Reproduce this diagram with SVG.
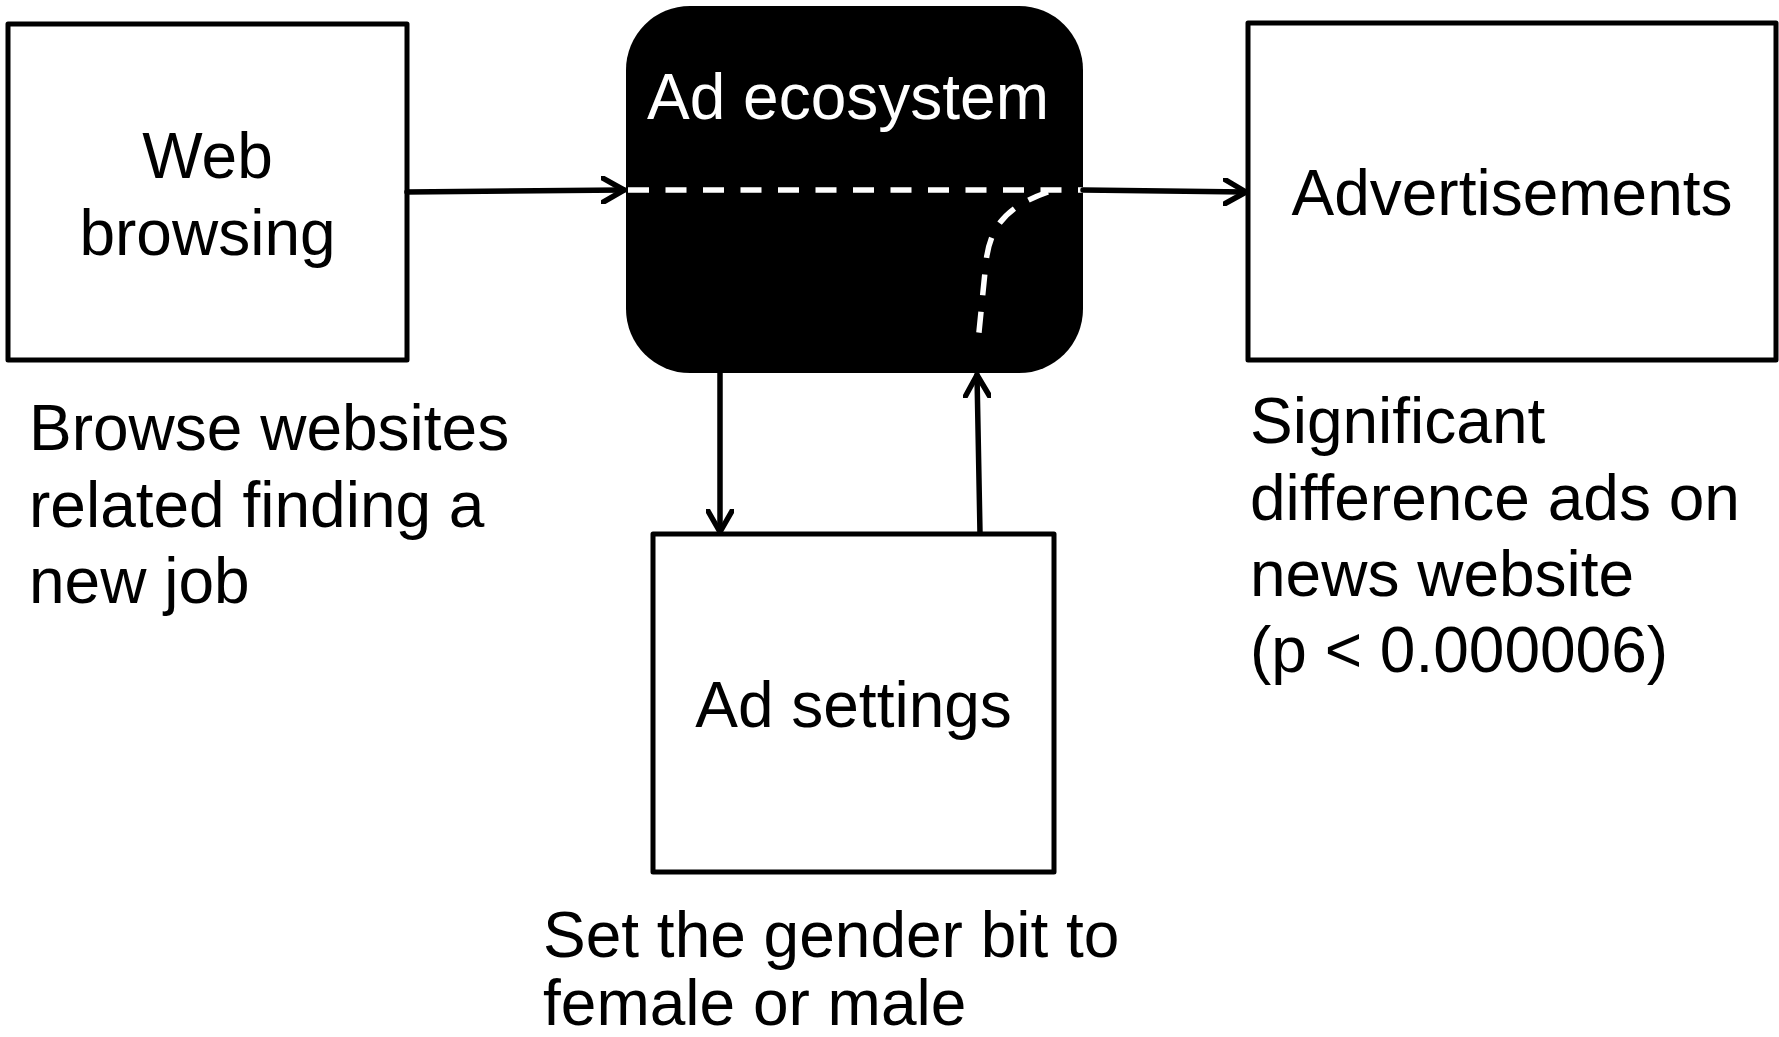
<svg xmlns="http://www.w3.org/2000/svg" width="1779" height="1037" viewBox="0 0 1779 1037">
  <style>
    .box { fill: #ffffff; stroke: #000000; stroke-width: 5; stroke-linejoin: round; }
    .t { font-family: "Liberation Sans", Arial, sans-serif; font-size: 64px; fill: #000000; }
    .tm { text-anchor: middle; }
    .tw { fill: #ffffff; }
    .conn { fill: none; stroke: #000000; stroke-width: 5.5; stroke-linecap: round; }
    .dash { fill: none; stroke: #ffffff; stroke-width: 5.5; stroke-dasharray: 21 16.5; }
  </style>
  <defs>
    <marker id="arr" markerUnits="userSpaceOnUse" viewBox="0 0 26 28" refX="23" refY="14" markerWidth="26" markerHeight="28" orient="auto">
      <path d="M2,2 L23,14 L2,26" fill="none" stroke="#000000" stroke-width="5.5" stroke-linecap="round" stroke-linejoin="round"/>
    </marker>
  </defs>
  <rect width="1779" height="1037" fill="#ffffff"/>

  <g id="web-browsing">
    <rect class="box" x="8" y="24" width="399" height="336"/>
    <text class="t tm" x="207.5" y="178">Web</text>
    <text class="t tm" x="207.5" y="255">browsing</text>
  </g>

  <g id="ad-ecosystem">
    <rect x="626" y="6" width="457" height="367" rx="64" ry="64" fill="#000000"/>
    <text class="t tm tw" x="848" y="119">Ad ecosystem</text>
    <path class="dash" d="M628,190 L1083,190"/>
    <path class="dash" d="M1048,192 C1008,206 990,225 986,262 L978,342"/>
  </g>

  <g id="advertisements">
    <rect class="box" x="1248" y="23" width="528" height="337"/>
    <text class="t tm" x="1512" y="215">Advertisements</text>
  </g>

  <g id="ad-settings">
    <rect class="box" x="653" y="534" width="401" height="338"/>
    <text class="t tm" x="853.5" y="727">Ad settings</text>
  </g>

  <g id="connectors">
    <line class="conn" x1="407" y1="192" x2="624" y2="190" marker-end="url(#arr)"/>
    <line class="conn" x1="1083" y1="190" x2="1246" y2="192" marker-end="url(#arr)"/>
    <line class="conn" x1="720" y1="373" x2="720" y2="532" marker-end="url(#arr)"/>
    <line class="conn" x1="980" y1="533" x2="977" y2="375" marker-end="url(#arr)"/>
  </g>

  <g id="labels">
    <text class="t" x="29" y="450">Browse websites</text>
    <text class="t" x="29" y="527">related finding a</text>
    <text class="t" x="29" y="603">new job</text>
    <text class="t" x="1250" y="443">Significant</text>
    <text class="t" x="1250" y="520">difference ads on</text>
    <text class="t" x="1250" y="596">news website</text>
    <text class="t" x="1250" y="672">(p &lt; 0.000006)</text>
    <text class="t" x="543" y="957">Set the gender bit to</text>
    <text class="t" x="543" y="1025">female or male</text>
  </g>
</svg>
